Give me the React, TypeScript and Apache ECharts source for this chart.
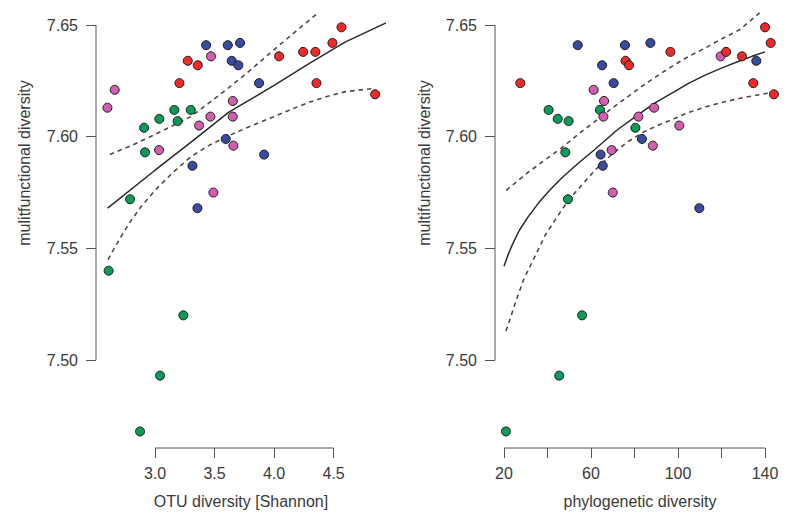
import React, { useEffect, useRef } from "react";
import * as echarts from "echarts";

// ---- data: left panel (OTU diversity [Shannon]) ----
const otuRed = [[3.275, 7.634], [3.359, 7.632], [3.205, 7.624], [4.042, 7.636], [4.244, 7.638], [4.347, 7.638], [4.49, 7.642], [4.566, 7.649], [4.356, 7.624], [4.849, 7.619]];
const otuBlue = [[3.429, 7.641], [3.611, 7.641], [3.714, 7.642], [3.644, 7.634], [3.70, 7.632], [3.874, 7.624], [3.594, 7.599], [3.916, 7.592], [3.314, 7.587], [3.356, 7.568]];
const otuPink = [[2.60, 7.613], [2.661, 7.621], [3.47, 7.636], [3.653, 7.616], [3.465, 7.609], [3.37, 7.605], [3.653, 7.609], [3.034, 7.594], [3.658, 7.596], [3.49, 7.575]];
const otuGreen = [[3.162, 7.612], [3.30, 7.612], [3.036, 7.608], [3.19, 7.607], [2.908, 7.604], [2.916, 7.593], [2.79, 7.572], [2.61, 7.540], [3.238, 7.520], [3.042, 7.493], [2.874, 7.468]];
const otuFit = [[2.602, 7.568], [3.0, 7.585], [3.3, 7.5975], [3.62, 7.611], [4.0, 7.623], [4.3, 7.633], [4.6, 7.6425], [4.94, 7.651]];
const otuUpper = [[2.62, 7.592], [2.8, 7.596], [3.0, 7.601], [3.15, 7.605], [3.3, 7.609], [3.45, 7.615], [3.62, 7.622], [3.76, 7.628], [4.0, 7.639], [4.2, 7.648], [4.37, 7.6555]];
const otuLower = [[2.605, 7.545], [2.7, 7.554], [2.78, 7.561], [2.88, 7.5685], [3.0, 7.576], [3.15, 7.584], [3.3, 7.591], [3.45, 7.596], [3.6, 7.600], [3.8, 7.6047], [4.0, 7.609], [4.15, 7.6124], [4.3, 7.6155], [4.45, 7.6181], [4.6, 7.6202], [4.85, 7.6217]];

// ---- data: right panel (phylogenetic diversity) ----
const pdRed = [[27.5, 7.624], [96.5, 7.638], [75.9, 7.634], [77.5, 7.632], [122.1, 7.638], [129.4, 7.636], [140.0, 7.649], [142.6, 7.642], [134.6, 7.624], [144.1, 7.619]];
const pdBlue = [[53.9, 7.641], [75.6, 7.641], [87.3, 7.642], [65.1, 7.632], [70.4, 7.624], [136.0, 7.634], [83.4, 7.599], [64.4, 7.592], [65.4, 7.587], [109.8, 7.568]];
const pdPink = [[119.6, 7.636], [61.2, 7.621], [66.0, 7.616], [65.7, 7.609], [89.0, 7.613], [81.8, 7.609], [100.6, 7.605], [69.5, 7.594], [88.4, 7.596], [70.0, 7.575]];
const pdGreen = [[40.5, 7.612], [44.7, 7.608], [49.7, 7.607], [64.1, 7.612], [80.4, 7.604], [48.2, 7.593], [49.4, 7.572], [55.9, 7.520], [45.4, 7.493], [20.9, 7.468]];
const pdFit = [[20, 7.542], [22, 7.5475], [24, 7.552], [27, 7.558], [31, 7.564], [36, 7.5705], [41, 7.576], [46.5, 7.5815], [54, 7.588], [62, 7.5945], [72, 7.603], [82.5, 7.6105], [90, 7.6155], [98, 7.620], [105, 7.624], [113, 7.6278], [120, 7.6307], [128.5, 7.634], [134, 7.636], [140, 7.638]];
const pdUpper = [[21, 7.576], [26, 7.580], [31, 7.584], [38, 7.589], [46.5, 7.595], [54, 7.601], [62, 7.607], [70, 7.613], [77, 7.618], [84, 7.623], [91, 7.6276], [98, 7.632], [105, 7.636], [113, 7.640], [120, 7.6438], [128.5, 7.648], [137.5, 7.6555]];
const pdLower = [[20.9, 7.513], [23, 7.519], [25, 7.525], [27, 7.5305], [29, 7.536], [33, 7.544], [36, 7.550], [39, 7.556], [44, 7.5635], [49.6, 7.5716], [55, 7.5775], [61.8, 7.585], [70, 7.5925], [77, 7.5978], [84, 7.602], [91, 7.6052], [98, 7.608], [105, 7.6109], [113, 7.6134], [120, 7.6153], [128.5, 7.6172], [136, 7.6186], [144.6, 7.620]];

// ---- axes ----
const yTicks = [7.5, 7.55, 7.6, 7.65];
const otuTicks = [3.0, 3.5, 4.0, 4.5];
const pdTicks = [20, 40, 60, 80, 100, 120, 140];
const pdLabels = [20, 60, 100, 140];
const Y_MIN = 7.4606;
const Y_MAX = 7.6563;
const OTU_MIN = 2.504;
const OTU_MAX = 4.94;
const PD_MIN = 15.86;
const PD_MAX = 149.0;

const COLORS = { red: "#EE2A2A", green: "#0B9A58", blue: "#3A4B9F", pink: "#D35DAF" };
const FONT = "'Liberation Sans', Arial, Helvetica, sans-serif";
const AXIS_COLOR = "#555";
const TEXT_COLOR = "#3a3a3a";

export default function App() {
  const ref = useRef<HTMLDivElement>(null);
  useEffect(() => {
    if (!ref.current) return;
    const chart = echarts.init(ref.current, null, { renderer: "svg" });

    const xAxisBase = (idx: number, min: number, max: number, ticks: number[], labels: number[], dec: number) => ({
      type: "value",
      gridIndex: idx,
      min,
      max,
      axisLine: { show: false },
      splitLine: { show: false },
      axisTick: { show: true, length: 10, customValues: ticks, lineStyle: { color: AXIS_COLOR, width: 1 } },
      axisLabel: {
        show: true,
        customValues: labels,
        margin: 17,
        color: TEXT_COLOR,
        fontFamily: FONT,
        fontSize: 16,
        formatter: (v: number) => v.toFixed(dec),
      },
    });
    const yAxisBase = (idx: number) => ({
      type: "value",
      gridIndex: idx,
      min: Y_MIN,
      max: Y_MAX,
      axisLine: { show: false },
      splitLine: { show: false },
      axisTick: { show: true, length: 10, customValues: yTicks, lineStyle: { color: AXIS_COLOR, width: 1 } },
      axisLabel: {
        show: true,
        customValues: yTicks,
        margin: 18,
        color: TEXT_COLOR,
        fontFamily: FONT,
        fontSize: 16,
        formatter: (v: number) => v.toFixed(2),
      },
    });

    const scatter = (data: number[][], color: string, idx: number) => ({
      type: "scatter",
      xAxisIndex: idx,
      yAxisIndex: idx,
      data,
      symbol: "circle",
      symbolSize: 9,
      itemStyle: { color, borderColor: "#1a1a1a", borderWidth: 1, opacity: 1 },
      z: 5,
      silent: true,
    });
    const line = (data: number[][], idx: number, dashed: boolean) => ({
      type: "line",
      xAxisIndex: idx,
      yAxisIndex: idx,
      data,
      symbol: "none",
      smooth: false,
      lineStyle: dashed
        ? { color: "#5a4448", width: 1.6, type: [4.5, 4] }
        : { color: "#2a2a2a", width: 1.5 },
      z: 3,
      silent: true,
    });
    const axisSeg = (data: number[][], idx: number) => ({
      type: "line",
      xAxisIndex: idx,
      yAxisIndex: idx,
      data,
      symbol: "none",
      clip: false,
      lineStyle: { color: AXIS_COLOR, width: 1 },
      z: 1,
      silent: true,
    });

    chart.setOption({
      animation: false,
      backgroundColor: "#ffffff",
      grid: [
        { left: 96, top: 11, width: 290, height: 437 },
        { left: 495, top: 11, width: 289.6, height: 437 },
      ],
      xAxis: [
        xAxisBase(0, OTU_MIN, OTU_MAX, otuTicks, otuTicks, 1),
        xAxisBase(1, PD_MIN, PD_MAX, pdTicks, pdLabels, 0),
      ],
      yAxis: [yAxisBase(0), yAxisBase(1)],
      series: [
        axisSeg([[OTU_MIN, yTicks[0]], [OTU_MIN, yTicks[yTicks.length - 1]]], 0),
        axisSeg([[otuTicks[0], Y_MIN], [otuTicks[otuTicks.length - 1], Y_MIN]], 0),
        axisSeg([[PD_MIN, yTicks[0]], [PD_MIN, yTicks[yTicks.length - 1]]], 1),
        axisSeg([[pdTicks[0], Y_MIN], [pdTicks[pdTicks.length - 1], Y_MIN]], 1),
        line(otuFit, 0, false),
        line(otuUpper, 0, true),
        line(otuLower, 0, true),
        line(pdFit, 1, false),
        line(pdUpper, 1, true),
        line(pdLower, 1, true),
        scatter(otuGreen, COLORS.green, 0),
        scatter(otuPink, COLORS.pink, 0),
        scatter(otuBlue, COLORS.blue, 0),
        scatter(otuRed, COLORS.red, 0),
        scatter(pdGreen, COLORS.green, 1),
        scatter(pdPink, COLORS.pink, 1),
        scatter(pdBlue, COLORS.blue, 1),
        scatter(pdRed, COLORS.red, 1),
      ],
      graphic: [
        {
          type: "text",
          x: 241,
          y: 501,
          style: { text: "OTU diversity [Shannon]", font: `16px ${FONT}`, fill: TEXT_COLOR, textAlign: "center", textVerticalAlign: "middle" },
        },
        {
          type: "text",
          x: 640,
          y: 501,
          style: { text: "phylogenetic diversity", font: `16px ${FONT}`, fill: TEXT_COLOR, textAlign: "center", textVerticalAlign: "middle" },
        },
        {
          type: "text",
          x: 24,
          y: 163,
          rotation: Math.PI / 2,
          style: { text: "mulitfunctional diversity", font: `16px ${FONT}`, fill: TEXT_COLOR, textAlign: "center", textVerticalAlign: "middle" },
        },
        {
          type: "text",
          x: 424,
          y: 163,
          rotation: Math.PI / 2,
          style: { text: "multifunctional diversity", font: `16px ${FONT}`, fill: TEXT_COLOR, textAlign: "center", textVerticalAlign: "middle" },
        },
      ],
    });
    return () => chart.dispose();
  }, []);
  return (
    <div
      ref={ref}
      style={{ position: "fixed", left: 0, top: 0, width: 800, height: 517, background: "#fff" }}
    />
  );
}
